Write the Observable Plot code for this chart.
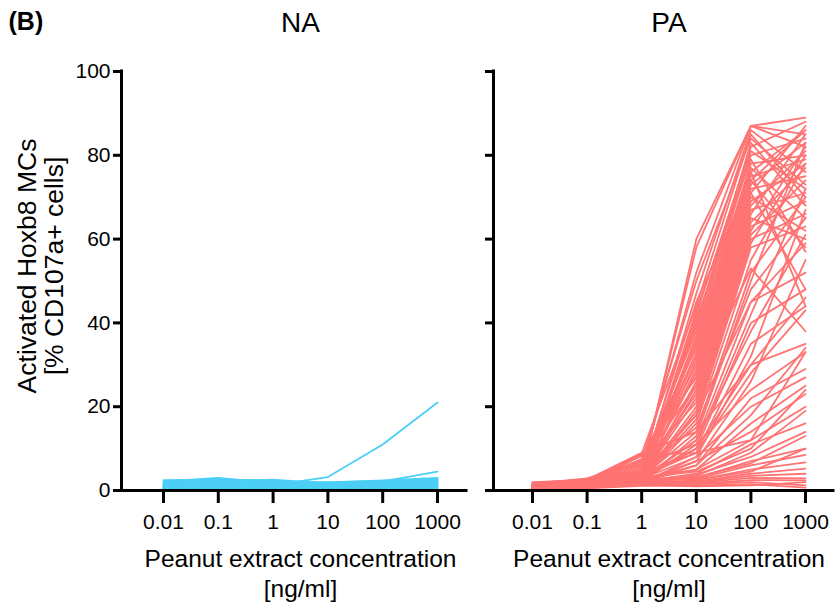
<!DOCTYPE html>
<html>
<head>
<meta charset="utf-8">
<script src="https://cdn.jsdelivr.net/npm/d3@7"></script>
<script src="https://cdn.jsdelivr.net/npm/@observablehq/plot@0.6"></script>
<style>
  html, body { margin: 0; padding: 0; background: #fff; }
  #chart { display: flex; width: 840px; height: 603px; font-family: "Liberation Sans", Arial, sans-serif; color: #000; }
  #chart svg { font-family: "Liberation Sans", Arial, sans-serif; }
</style>
</head>
<body>
<div id="chart"></div>
<script>
// ---- data ----
const concentrations = [0.01, 0.1, 1, 10, 100, 1000];
const xTickLabels = ["0.01", "0.1", "1", "10", "100", "1000"];
const yTicks = [0, 20, 40, 60, 80, 100];
const panelTitles = ["NA", "PA"];
const xLabel = "Peanut extract concentration\n[ng/ml]";
const yLabel = "Activated Hoxb8 MCs\n[% CD107a+ cells]";
const figureTag = "(B)";

// NA: one value per concentration for each donor line
const naSeries = [
  [1.2, 2.0, 1.3, 3.2, 11, 21],
  [0.8, 1.5, 2.0, 1.5, 2.2, 4.5],
  [2.2, 3.0, 1.8, 2.0, 2.3, 2.7],
  [2.5, 2.6, 2.2, 1.9, 2.4, 3.0],
  [2.0, 2.3, 2.6, 1.7, 2.1, 2.8],
  [1.8, 2.5, 2.0, 1.6, 2.0, 2.5],
  [1.5, 2.1, 2.4, 1.4, 1.9, 2.3],
  [1.3, 1.9, 1.7, 1.3, 1.8, 2.1],
  [1.1, 1.7, 1.5, 1.2, 1.6, 1.9],
  [0.9, 1.4, 1.3, 1.0, 1.4, 1.7],
  [0.7, 1.2, 1.1, 0.9, 1.2, 1.5],
  [0.5, 1.0, 0.9, 0.8, 1.0, 1.2],
  [0.4, 0.8, 0.7, 0.6, 0.8, 1.0],
  [0.3, 0.6, 0.5, 0.5, 0.6, 0.8],
  [0.2, 0.4, 0.4, 0.3, 0.4, 0.6],
  [0.1, 0.3, 0.2, 0.2, 0.3, 0.4],
  [1.0, 1.6, 1.2, 1.1, 1.3, 2.0],
  [0.6, 0.9, 1.0, 0.7, 0.9, 1.4]
];

// PA: one value per concentration for each donor line
const paSeries = [
  [1.2, 1.8, 3.5, 60, 87, 89],
  [0.8, 1.5, 4.0, 58, 87, 85],
  [1.5, 2.2, 5.5, 52, 87, 82],
  [0.9, 1.3, 3.0, 47, 86, 76],
  [1.0, 2.0, 8.8, 44, 85, 70],
  [0.6, 1.1, 2.5, 42, 82, 88],
  [1.4, 1.7, 3.2, 40, 81, 72],
  [2.0, 2.5, 6.0, 38, 80, 84],
  [0.7, 1.2, 2.8, 37, 78, 80],
  [1.1, 1.6, 4.5, 36, 77, 65],
  [0.5, 0.9, 2.2, 35, 76, 86],
  [1.3, 2.1, 7.5, 34, 75, 79],
  [0.9, 1.4, 3.1, 33, 74, 58],
  [1.6, 2.3, 3.8, 32, 73, 83],
  [0.4, 0.8, 2.0, 31, 72, 75],
  [1.0, 1.5, 5.0, 30, 71, 87],
  [1.2, 1.9, 2.9, 29, 70, 62],
  [0.8, 1.3, 3.4, 28, 69, 78],
  [1.5, 2.4, 8.2, 27, 68, 81],
  [0.6, 1.0, 2.4, 26, 67, 71],
  [1.1, 1.7, 3.6, 25, 66, 85],
  [0.9, 1.2, 2.7, 24, 65, 60],
  [1.3, 2.0, 4.2, 23, 64, 77],
  [0.7, 1.1, 3.0, 22, 63, 69],
  [1.8, 2.6, 6.5, 21, 62, 82],
  [1.0, 1.4, 2.6, 20, 61, 74],
  [0.5, 0.9, 2.1, 19, 60, 66],
  [1.2, 1.8, 3.3, 18, 59, 80],
  [0.8, 1.5, 2.8, 17, 58, 63],
  [1.4, 2.2, 4.8, 39, 83, 68],
  [0.6, 1.0, 2.3, 43, 79, 57],
  [1.0, 1.6, 3.9, 45, 74, 86],
  [1.7, 2.8, 7.0, 50, 84, 73],
  [0.9, 1.3, 2.5, 41, 76, 44],
  [1.1, 1.9, 3.7, 35, 71, 48],
  [0.8, 1.2, 2.4, 16, 55, 78],
  [1.2, 1.7, 3.1, 14, 52, 70],
  [0.6, 1.0, 2.0, 13, 50, 83],
  [1.0, 1.5, 5.5, 15, 48, 65],
  [1.4, 2.1, 2.9, 12, 45, 59],
  [0.7, 1.1, 2.2, 11, 42, 72],
  [1.1, 1.6, 3.4, 10, 40, 48],
  [0.9, 1.3, 2.6, 12, 38, 61],
  [1.3, 2.0, 4.1, 9, 35, 44],
  [0.5, 0.8, 1.8, 8, 32, 67],
  [1.0, 1.4, 2.7, 10, 30, 35],
  [1.2, 1.9, 3.3, 9, 28, 43],
  [0.8, 1.2, 2.3, 7, 26, 55],
  [1.5, 2.3, 6.2, 11, 24, 33],
  [0.7, 1.0, 2.0, 6, 22, 29],
  [1.1, 1.5, 2.8, 8, 20, 27],
  [0.9, 1.3, 2.4, 6, 18, 34],
  [1.3, 1.8, 3.0, 5, 16, 25],
  [0.6, 0.9, 1.9, 7, 14, 23],
  [1.0, 1.4, 2.5, 5, 12, 20],
  [0.8, 1.1, 2.1, 4, 11, 16],
  [1.2, 1.7, 3.2, 4.5, 10, 24],
  [0.5, 0.8, 1.6, 3.5, 9, 19],
  [1.0, 1.3, 2.3, 3.8, 8, 14],
  [0.7, 1.0, 2.0, 3, 7, 10],
  [1.1, 1.6, 2.7, 3.2, 6.5, 13],
  [0.9, 1.2, 2.2, 2.8, 6, 8.5],
  [0.4, 0.7, 1.5, 2.5, 5, 6.7],
  [1.2, 1.5, 2.6, 2.6, 4.5, 10],
  [0.8, 1.0, 1.8, 2.2, 4, 5.2],
  [0.6, 0.9, 1.7, 2.0, 3.5, 4],
  [1.0, 1.2, 2.0, 1.8, 3, 2.9],
  [0.5, 0.7, 1.4, 1.6, 2.5, 2.4],
  [0.9, 1.1, 1.9, 1.5, 2, 1.2],
  [0.3, 0.5, 1.1, 1.2, 1.5, 0.7],
  [0.7, 0.9, 1.3, 1.0, 1.2, 2],
  [1.0, 1.4, 8.5, 9, 12, 33],
  [1.4, 2.6, 9.0, 14, 30, 46],
  [0.6, 1.0, 4.0, 18, 45, 52],
  [1.3, 2.9, 6.8, 25, 53, 38]
];

const colors = ["#4ccff7", "#ff7373"];

// ---- build tidy rows ----
function toRows(series) {
  return series.flatMap((vals, i) => vals.map((v, j) => ({id: i, conc: concentrations[j], value: v})));
}

const tickCenter = Math.sqrt(concentrations[0] * concentrations[concentrations.length - 1]);
const fmt = d => xTickLabels[concentrations.indexOf(d)];

function panel({rows, color, title, width, marginLeft, marginRight, xDomain, showYLabels, extra}) {
  return Plot.plot({
    width,
    height: 603,
    marginLeft,
    marginRight,
    marginTop: 71,
    marginBottom: 113,
    style: {fontFamily: "Liberation Sans, Arial, sans-serif", color: "#000", background: "#fff", overflow: "visible"},
    x: {type: "log", domain: xDomain},
    y: {domain: [0, 100]},
    marks: [
      Plot.line(rows, {x: "conc", y: "value", z: "id", stroke: color, strokeWidth: 1.8, curve: "linear"}),
      Plot.ruleX([xDomain[0]], {stroke: "#000", strokeWidth: 3, strokeLinecap: "square"}),
      Plot.ruleY([0], {stroke: "#000", strokeWidth: 3, strokeLinecap: "square"}),
      Plot.axisY({ticks: yTicks, tickSize: 8, tickPadding: 3, strokeWidth: 3, fontSize: 21, label: null,
                  tickFormat: showYLabels ? (d => String(d)) : (() => "")}),
      Plot.axisX({ticks: concentrations, tickFormat: fmt, tickSize: 13, tickPadding: 11, strokeWidth: 3, fontSize: 21, label: null}),
      Plot.text([title], {x: () => tickCenter, frameAnchor: "top", dy: -59, lineAnchor: "top", textAnchor: "middle", fontSize: 28}),
      Plot.text([xLabel], {x: () => tickCenter, frameAnchor: "bottom", dy: 55, lineAnchor: "top", textAnchor: "middle", fontSize: 24.5, lineHeight: 1.22}),
      ...(extra || [])
    ]
  });
}

const left = panel({
  rows: toRows(naSeries),
  color: colors[0],
  title: panelTitles[0],
  width: 480,
  marginLeft: 121,
  marginRight: 14,
  xDomain: [10 ** -2.766, 10 ** 3.529],
  showYLabels: true,
  extra: [
    Plot.text([figureTag], {frameAnchor: "top-left", dx: -113, dy: -59, lineAnchor: "top", textAnchor: "start", fontWeight: "bold", fontSize: 25}),
    Plot.text([yLabel], {frameAnchor: "left", rotate: -90, dx: -81, dy: -15, textAnchor: "middle", lineAnchor: "middle", fontSize: 26.5, lineHeight: 1.04})
  ]
});

const right = panel({
  rows: toRows(paSeries),
  color: colors[1],
  title: panelTitles[1],
  width: 360,
  marginLeft: 13,
  marginRight: 7,
  xDomain: [10 ** -2.714, 10 ** 3.513],
  showYLabels: false
});

document.getElementById("chart").append(left, right);
</script>
</body>
</html>
